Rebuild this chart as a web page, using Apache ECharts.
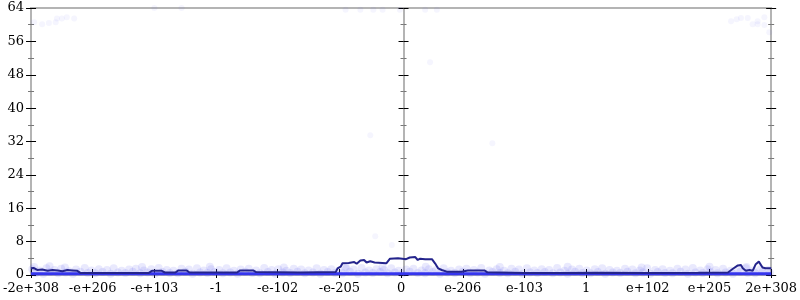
<!DOCTYPE html>
<html>
<head>
<meta charset="utf-8">
<script src="https://cdn.jsdelivr.net/npm/echarts@6/dist/echarts.min.js"></script>
<style>html,body{margin:0;padding:0;background:#fff}#c{width:800px;height:300px}</style>
</head>
<body>
<div id="c"></div>
<script>
const xTickLabels = ['-2e+308','-e+206','-e+103','-1','-e-102','-e-205','0','e-206','e-103','1','e+102','e+205','2e+308'];
const yTicks = [0, 8, 16, 24, 32, 40, 48, 56, 64];

const lineX = [-6.0,-5.96,-5.90,-5.82,-5.73,-5.65,-5.57,-5.49,-5.41,-5.33,-5.25,-5.20,-4.85,-4.09,-4.04,-3.88,-3.83,-3.66,-3.61,-3.48,-3.43,-2.66,-2.61,-2.40,-2.35,-1.63,-1.06,-1.03,-0.98,-0.95,-0.85,-0.82,-0.76,-0.72,-0.66,-0.60,-0.56,-0.50,-0.43,-0.40,-0.24,-0.18,-0.05,0.02,0.08,0.14,0.23,0.27,0.31,0.39,0.50,0.55,0.60,0.66,0.74,0.98,1.08,1.35,1.40,2.0,2.56,3.21,4.01,4.82,5.30,5.38,5.46,5.51,5.54,5.59,5.65,5.70,5.75,5.80,5.83,5.86,5.91,6.0];
const lineY = [1.6,1.7,1.2,1.3,1.0,1.2,1.1,0.9,1.2,1.1,1.0,0.5,0.5,0.5,1.0,1.0,0.6,0.6,1.1,1.1,0.6,0.6,1.1,1.1,0.7,0.6,0.7,1.6,2.0,2.8,2.9,3.2,3.1,2.7,3.5,3.6,3.0,3.3,3.0,2.8,2.8,3.9,4.0,3.9,3.8,4.2,4.3,3.6,3.9,3.8,3.8,2.8,1.6,1.2,0.8,0.8,1.1,1.1,0.65,0.5,0.5,0.55,0.5,0.55,0.6,1.5,2.3,2.4,1.6,1.0,1.2,1.0,2.6,3.2,3.0,1.8,1.6,1.6];

const floorX = [-6, -3, 0, 3, 6];
const floorY = [0.3, 0.3, 0.3, 0.3, 0.3];

const bandDots = [
[-5.98,1.4],[-5.86,1.1],[-5.75,1.6],[-5.62,1.2],[-5.51,1.5],[-5.38,0.9],[-5.27,1.3],[-5.13,1.7],[-5.02,1.1],[-4.9,1.4],[-4.77,1.2],[-4.66,1.6],[-4.53,1.0],[-4.41,1.3],[-4.3,1.5],[-4.17,1.1],[-4.05,1.4],[-3.93,1.7],[-3.8,1.2],[-3.69,1.0],[-3.56,1.5],[-3.44,1.3],[-3.31,1.6],[-3.2,1.1],[-3.08,1.4],[-2.95,1.2],[-2.83,1.6],[-2.71,1.0],[-2.6,1.3],[-2.47,1.5],[-2.35,1.1],[-2.22,1.7],[-2.1,1.2],[-1.99,1.4],[-1.86,1.0],[-1.74,1.5],[-1.62,1.3],[-1.5,1.1],[-1.37,1.6],[-1.25,1.2],[-1.13,1.4],[-1.01,1.0],[-0.89,1.5],[-0.77,1.3],[-0.64,1.7],[-0.52,1.1],[-0.4,1.4],[-0.28,1.2],[-0.16,1.6],[-0.04,1.0],[0.08,1.3],[0.2,1.5],[0.33,1.1],[0.45,1.4],[0.57,1.2],[0.69,1.6],[0.81,1.0],[0.94,1.3],[1.06,1.5],[1.18,1.2],[1.3,1.7],[1.43,1.1],[1.55,1.4],[1.67,1.0],[1.79,1.5],[1.91,1.3],[2.04,1.6],[2.16,1.1],[2.28,1.4],[2.4,1.2],[2.53,1.7],[2.65,1.0],[2.77,1.3],[2.89,1.5],[3.01,1.1],[3.14,1.4],[3.26,1.6],[3.38,1.2],[3.5,1.0],[3.63,1.5],[3.75,1.3],[3.87,1.1],[3.99,1.6],[4.12,1.2],[4.24,1.4],[4.36,1.0],[4.48,1.5],[4.61,1.3],[4.73,1.7],[4.85,1.1],[4.97,1.4],[5.1,1.2],[5.22,1.5],[5.34,1.0],[5.46,1.3],[5.59,1.6],[5.71,1.1],[5.83,1.4],[5.95,1.2],
[-5.92,0.5],[-5.8,0.3],[-5.69,0.7],[-5.56,0.4],[-5.44,0.6],[-5.32,0.3],[-5.2,0.8],[-5.08,0.5],[-4.96,0.4],[-4.84,0.7],[-4.71,0.3],[-4.59,0.6],[-4.47,0.5],[-4.35,0.8],[-4.23,0.4],[-4.11,0.6],[-3.99,0.3],[-3.87,0.7],[-3.75,0.5],[-3.62,0.4],[-3.5,0.8],[-3.38,0.3],[-3.26,0.6],[-3.14,0.5],[-3.02,0.7],[-2.89,0.4],[-2.77,0.6],[-2.65,0.3],[-2.53,0.8],[-2.41,0.5],[-2.29,0.4],[-2.16,0.7],[-2.04,0.3],[-1.92,0.6],[-1.8,0.5],[-1.68,0.8],[-1.56,0.4],[-1.43,0.6],[-1.31,0.3],[-1.19,0.7],[-1.07,0.5],[-0.95,0.4],[-0.83,0.8],[-0.7,0.3],[-0.58,0.6],[-0.46,0.5],[-0.34,0.7],[-0.22,0.4],[-0.1,0.6],[0.02,0.3],[0.14,0.8],[0.27,0.5],[0.39,0.4],[0.51,0.7],[0.63,0.3],[0.75,0.6],[0.87,0.5],[1.0,0.8],[1.12,0.4],[1.24,0.6],[1.36,0.3],[1.48,0.7],[1.6,0.5],[1.73,0.4],[1.85,0.8],[1.97,0.3],[2.09,0.6],[2.21,0.5],[2.33,0.7],[2.46,0.4],[2.58,0.6],[2.7,0.3],[2.82,0.8],[2.94,0.5],[3.07,0.4],[3.19,0.7],[3.31,0.3],[3.43,0.6],[3.55,0.5],[3.67,0.8],[3.8,0.4],[3.92,0.6],[4.04,0.3],[4.16,0.7],[4.28,0.5],[4.4,0.4],[4.53,0.8],[4.65,0.3],[4.77,0.6],[4.89,0.5],[5.01,0.7],[5.13,0.4],[5.26,0.6],[5.38,0.3],[5.5,0.8],[5.62,0.5],[5.74,0.4],[5.86,0.7],[5.98,0.5],
[-5.95,1.9],[-5.7,2.1],[-5.45,1.8],[-4.2,1.9],[-3.1,2.0],[-1.9,1.8],[-0.9,2.0],[-0.3,1.9],[0.4,2.0],[1.6,1.9],[2.7,2.0],[3.9,1.8],[5.0,2.0],[5.6,1.9]
];

const outlierDots = [
[-5.95,60.6],[-5.82,60.1],[-5.71,60.4],[-5.6,60.6],[-5.58,61.5],[-5.5,61.5],[-5.42,61.8],[-5.3,61.5],[-4.0,64],[-3.56,64],[-0.9,63.6],[-0.66,63.6],[-0.45,63.6],[-0.3,63.6],[-0.02,63.6],[0.39,63.6],[0.58,63.6],
[5.35,60.8],[5.44,61.3],[5.51,61.6],[5.62,61.6],[5.70,60.1],[5.78,60.8],[5.78,60.1],[5.89,61.8],[5.89,59.9],[5.97,58.2],
[0.47,51.0],[-0.5,33.5],[1.48,31.6],[-0.42,9.3],[-0.15,7.2]
];

function yAx(pos, offset, inside, showLabel) {
  return {
    type: 'value', min: 0, max: 64, interval: 8, position: pos, offset: offset,
    splitLine: { show: false },
    axisLine: { show: true, onZero: false, lineStyle: { color: '#b4b4b4', width: 2 } },
    axisTick: { show: true, inside: inside, length: 5, lineStyle: { color: '#000', width: 1 } },
    minorTick: { show: true, splitNumber: 2, length: 3, lineStyle: { color: '#777', width: 1 } },
    axisLabel: { show: showLabel, margin: 7, color: '#000', fontFamily: 'DejaVu Serif', fontSize: 13,
      formatter: v => yTicks.indexOf(v) >= 0 ? String(v) : '' }
  };
}
function xAx(pos, inside, showLabel, showTick) {
  return {
    type: 'value', min: -6, max: 6, interval: 1, position: pos,
    splitLine: { show: false },
    axisLine: { show: true, onZero: false, lineStyle: { color: '#b4b4b4', width: 2 } },
    axisTick: { show: showTick, inside: inside, length: inside ? 6 : 3, lineStyle: { color: '#000', width: 1 } },
    axisLabel: { show: showLabel, margin: 7, color: '#000', fontFamily: 'DejaVu Serif', fontSize: 13,
      showMinLabel: true, showMaxLabel: true,
      formatter: v => xTickLabels[Math.round(v) + 6] }
  };
}

const chart = echarts.init(document.getElementById('c'), null, { renderer: 'canvas' });
chart.setOption({
  animation: false,
  backgroundColor: '#fff',
  grid: { left: 28, right: 27, top: 8, bottom: 25, containLabel: false },
  xAxis: [xAx('bottom', true, true, true), xAx('bottom', false, false, true), xAx('top', true, false, false)],
  yAxis: [
    yAx('left', 0, true, true), yAx('left', 0, false, false),
    yAx('left', -372.5, true, false), yAx('left', -372.5, false, false),
    yAx('right', 0, true, false), yAx('right', 0, false, false)
  ],
  series: [
    { type: 'scatter', data: bandDots, symbolSize: 8, itemStyle: { color: 'rgba(70,70,235,0.15)' }, silent: true },
    { type: 'scatter', data: outlierDots, symbolSize: 6, itemStyle: { color: 'rgba(70,70,235,0.07)' }, silent: true },
    { type: 'line', data: floorX.map((x, i) => [x, floorY[i]]), showSymbol: false,
      lineStyle: { color: '#3535ee', width: 3 } },
    { type: 'line', data: lineX.map((x, i) => [x, lineY[i]]), showSymbol: false,
      lineStyle: { color: '#24248c', width: 2 } }
  ]
});
</script>
</body>
</html>
